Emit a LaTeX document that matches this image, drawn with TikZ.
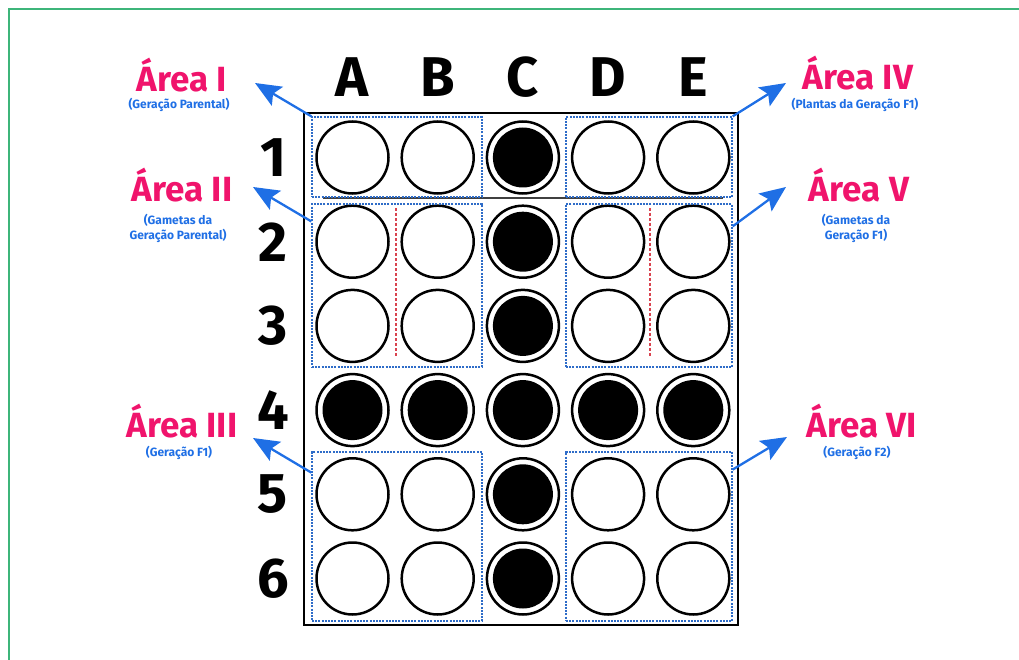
\documentclass[tikz,border=0pt]{standalone}
\usepackage{fontspec}
\setmainfont{Fira Sans}
\usetikzlibrary{positioning, calc, arrows.meta}
\definecolor{frame}{HTML}{3DB57A}
\definecolor{areapink}{HTML}{F0146C}
\definecolor{areablue}{HTML}{1F6FE5}
\definecolor{boxblue}{HTML}{2E6CC8}
\definecolor{splitred}{HTML}{D9434F}

\begin{document}
\begin{tikzpicture}[
    x=1pt, y=-1pt,
    >={Stealth[length=26pt, width=22pt, inset=5pt]},
    font=\bfseries,
    hole/.style={draw, circle, line width=2.5pt, minimum size=72pt, inner sep=0pt},
    core/.style={fill=black, circle, minimum size=60pt, inner sep=0pt},
    bigname/.style={font=\fontsize{56}{60}\selectfont\bfseries, inner sep=0pt},
    board/.style={draw, line width=2.8pt, inner sep=0pt},
    areabox/.style={draw=boxblue, line width=1.3pt, dash pattern=on 2pt off 1.2pt, inner sep=0pt},
    splitline/.style={draw=splitred, line width=1.3pt, dash pattern=on 3pt off 2pt},
    divider/.style={draw=black!75, line width=1.6pt},
    areatitle/.style={text=areapink, font=\fontsize{35}{40}\selectfont\bfseries, inner sep=0pt, anchor=base},
    areasub/.style={text=areablue, font=\fontsize{12}{14.5}\selectfont\bfseries, inner sep=0pt, align=center, anchor=north},
    pointer/.style={->, draw=areablue, line width=2.3pt}
]

% frame and board
\useasboundingbox (0,0) rectangle (1019,660);
\draw[frame, line width=2pt] (9,660) -- (9,9) -- (1019,9);
\node[board, minimum width=434pt, minimum height=512pt] (board) at (521,369) {};

% wells
\foreach \c [count=\i from 0] in {A,B,C,D,E} {
    \node[bigname] (col-\c) at ({352.5+85.2*\i},77) {\c};
    \foreach \r in {1,...,6} {
        \node[hole] (h-\c\r) at ({352.5+85.2*\i},{157.5+84.2*(\r-1)}) {};
    }
}
\foreach \r in {1,...,6} {
    \node[bigname] (row-\r) at (273,{157.5+84.2*(\r-1)}) {\r};
}
\foreach \cell in {C1,C2,C3,C4,C5,C6,A4,B4,D4,E4} {
    \node[core] at (h-\cell) {};
}

\draw[divider] (323,198) -- (723,198);
\draw[splitline] (396,208) -- (396,357);
\draw[splitline] (650,208) -- (650,357);

% areas
\node[areabox, minimum width=170pt, minimum height=80pt] (boxI) at (397,157) {};
\node[areabox, minimum width=170pt, minimum height=163pt] (boxII) at (397,285.5) {};
\node[areabox, minimum width=170pt, minimum height=169pt] (boxIII) at (397,536.5) {};
\node[areabox, minimum width=166pt, minimum height=80pt] (boxIV) at (649,157) {};
\node[areabox, minimum width=166pt, minimum height=163pt] (boxV) at (649,285.5) {};
\node[areabox, minimum width=166pt, minimum height=169pt] (boxVI) at (649,536.5) {};

% labels
\node[areatitle] (tI) at (182,92) {Área I};
\node[areasub] (sI) at (179,98) {(Geração Parental)};
\node[areatitle] (tII) at (182,202) {Área II};
\node[areasub] (sII) at (178,214) {(Gametas da\\Geração Parental)};
\node[areatitle] (tIII) at (182,437) {Área III};
\node[areasub] (sIII) at (179,446) {(Geração F1)};
\node[areatitle] (tIV) at (858,90) {Área IV};
\node[areasub] (sIV) at (855,98) {(Plantas da Geração F1)};
\node[areatitle] (tV) at (859,202) {Área V};
\node[areasub] (sV) at (856,214) {(Gametas da\\Geração F1)};
\node[areatitle] (tVI) at (862,437) {Área VI};
\node[areasub] (sVI) at (857,446) {(Geração F2)};

\coordinate (tipI) at (255,83);
\coordinate (tipII) at (253,187);
\coordinate (tipIII) at (253,438);
\coordinate (tipIV) at (786,83);
\coordinate (tipV) at (786,187);
\coordinate (tipVI) at (787,437);

\draw[pointer] (boxI.north west) -- (tipI);
\draw[pointer] ($(boxII.north west)!0.11!(boxII.south west)$) -- (tipII);
\draw[pointer] ($(boxIII.north west)!0.125!(boxIII.south west)$) -- (tipIII);
\draw[pointer] (boxIV.north east) -- (tipIV);
\draw[pointer] ($(boxV.north east)!0.14!(boxV.south east)$) -- (tipV);
\draw[pointer] ($(boxVI.north east)!0.107!(boxVI.south east)$) -- (tipVI);

\end{tikzpicture}
\end{document}
